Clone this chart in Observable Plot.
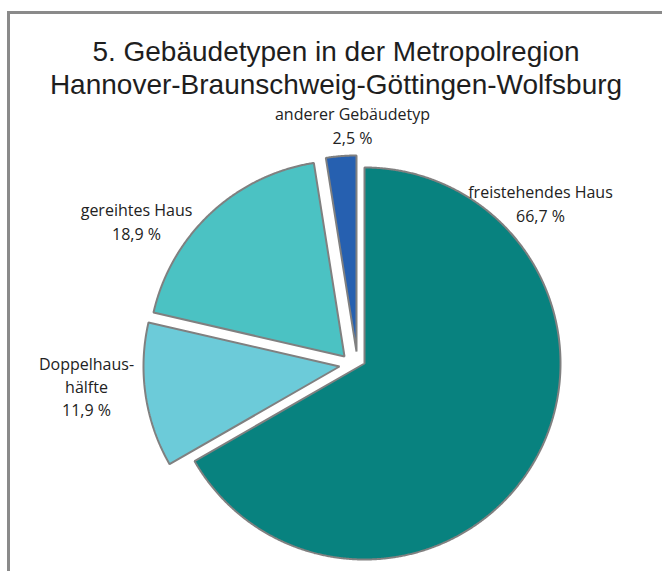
<!DOCTYPE html>
<html><head><meta charset="utf-8">
<script src="https://cdn.jsdelivr.net/npm/d3@7"></script>
<script src="https://cdn.jsdelivr.net/npm/@observablehq/plot@0.6"></script>
<style>
html,body{margin:0;padding:0;background:#fff;overflow:hidden;width:662px;height:571px}
#frame{position:absolute;left:7px;top:11px;width:720px;height:640px;border-left:3px solid #8a8a8a;border-top:3px solid #8a8a8a}
#title{position:absolute;left:0;top:30px;width:672px;height:90px}
#chart{position:absolute;left:0;top:125px}
</style></head><body>
<div id="frame"></div>
<svg id="title" width="672" height="90" xmlns="http://www.w3.org/2000/svg">
  <text x="336" y="31" text-anchor="middle" font-family="Liberation Sans, Arial, sans-serif" font-size="28" fill="#1e1e1e"><tspan x="336" dy="0">5. Gebäudetypen in der Metropolregion</tspan><tspan x="336" dy="32.5">Hannover-Braunschweig-Göttingen-Wolfsburg</tspan></text>
</svg>
<div id="chart"></div>
<script>
// ---- data ----
const categories = ["freistehendes Haus", "Doppelhaushälfte", "gereihtes Haus", "anderer Gebäudetyp"];
const shares = [66.7, 11.9, 18.9, 2.5];
const labelNames = ["freistehendes Haus", "Doppelhaus-\nhälfte", "gereihtes Haus", "anderer Gebäudetyp"];

// ---- style / layout ----
const colors = ["#08827f", "#6ccbd9", "#4bc2c3", "#2660b0"];
const W = 662, H = 446, R = 196, CX = 364, CY = 238;
// explosion of each slice, px (dx, dy)
const explode = [[0, 0], [-25, 3], [-20, -7], [-8, -12]];
// label block centres relative to pie centre, px
const labelPos = [[176, -161], [-278, 22], [-228, -143], [-12, -239]];

const fmt = v => v.toFixed(1).replace(".", ",") + " %";

const points = [];
let acc = 0;
categories.forEach((name, i) => {
  const a0 = acc / 100 * 2 * Math.PI;
  acc += shares[i];
  const a1 = acc / 100 * 2 * Math.PI;
  const ox = explode[i][0] / R, oy = explode[i][1] / R;
  points.push({name, x: ox, y: oy});
  const n = Math.max(2, Math.ceil((a1 - a0) / 0.005));
  for (let k = 0; k <= n; k++) {
    const t = a0 + (a1 - a0) * k / n;
    points.push({name, x: ox + Math.sin(t), y: oy - Math.cos(t)});
  }
});

const labels = categories.map((name, i) => ({
  text: labelNames[i] + "\n" + fmt(shares[i]),
  x: labelPos[i][0] / R,
  y: labelPos[i][1] / R
}));

const chart = Plot.plot({
  width: W,
  height: H,
  margin: 0,
  style: {background: "transparent", overflow: "visible"},
  x: {domain: [-CX / R, (W - CX) / R], range: [0, W], axis: null},
  y: {domain: [-CY / R, (H - CY) / R], range: [0, H], axis: null},
  color: {domain: categories, range: colors},
  marks: [
    Plot.line(points, {x: "x", y: "y", z: "name", fill: "name", stroke: "#808080", strokeWidth: 2, curve: "linear-closed", strokeLinejoin: "miter"}),
    Plot.text(labels, {x: "x", y: "y", text: "text", fontSize: 16, lineHeight: 1.45, fill: "#222", fontFamily: "Open Sans"})
  ]
});
document.getElementById("chart").appendChild(chart);
</script></body></html>
